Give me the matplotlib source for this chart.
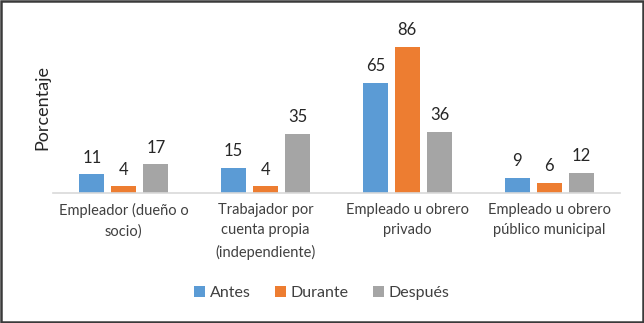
import numpy as np
import matplotlib
matplotlib.use("Agg")
import matplotlib.pyplot as plt
from matplotlib.patches import Rectangle

categorias = ["Empleador (dueño o\nsocio)",
              "Trabajador por\ncuenta propia\n(independiente)",
              "Empleado u obrero\nprivado",
              "Empleado u obrero\npúblico municipal"]
antes = [11, 15, 65, 9]
durante = [4, 4, 86, 6]
despues = [17, 35, 36, 12]
series = ["Antes", "Durante", "Después"]
colores = ["#5B9BD5", "#ED7D31", "#A5A5A5"]

plt.rcParams['font.family'] = ['Lato', 'DejaVu Sans']

fig = plt.figure(figsize=(6.44, 3.23), dpi=100)
ax = fig.add_axes([53/644, 1 - 193/323, 567/644, 170/323])

x = np.arange(len(categorias))
ancho = 0.176
paso = 0.226
for i, (vals, nombre, col) in enumerate(zip([antes, durante, despues], series, colores)):
    pos = x + (i - 1) * paso
    barras = ax.bar(pos, vals, width=ancho, color=col, label=nombre)
    for b, v in zip(barras, vals):
        ax.text(b.get_x() + b.get_width() / 2, v + 5, str(v),
                ha='center', va='bottom', fontsize=12, color='#262626')

ax.set_xlim(-0.5, len(categorias) - 0.5)
ax.set_ylim(0, 100)
ax.set_yticks([])
ax.set_xticks(x)
ax.set_xticklabels(categorias, fontsize=10.5, color='#404040', linespacing=1.6)
ax.tick_params(axis='x', length=0, pad=7)
for s in ['top', 'right', 'left']:
    ax.spines[s].set_visible(False)
ax.spines['bottom'].set_color('#D9D9D9')
ax.spines['bottom'].set_linewidth(1.2)

ax.set_ylabel("Porcentaje", fontsize=13, color='#262626', labelpad=2)

fig.legend(loc='center', bbox_to_anchor=(322/644, 1 - 293/323), ncol=3,
           frameon=False, fontsize=11.5, handlelength=0.7, handleheight=0.7,
           handletextpad=0.3, columnspacing=1.5, labelcolor='#404040')

fig.patches.append(Rectangle((0.002, 0.003), 0.996, 0.994, transform=fig.transFigure,
                             fill=False, edgecolor='#3a3a3a', linewidth=1.8))

fig.savefig("out.png", dpi=100)
